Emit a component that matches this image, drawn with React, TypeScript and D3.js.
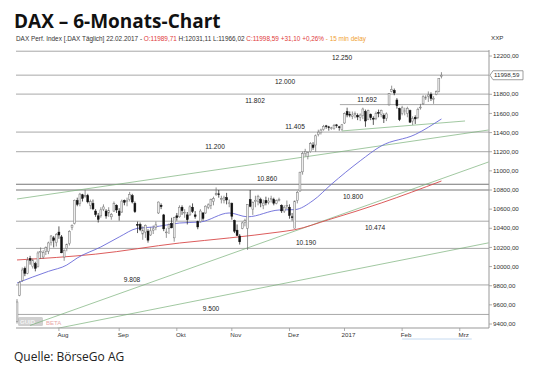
import React from 'react';
import * as d3 from 'd3';

// ---------- DATA ----------
const candleDates = [
  '08.07','11.07','12.07','13.07','14.07','15.07','18.07','19.07','20.07','21.07','22.07','25.07','26.07','27.07','28.07','29.07',
  '01.08','02.08','03.08','04.08','05.08','08.08','09.08','10.08','11.08','12.08','15.08','16.08','17.08','18.08','19.08','22.08','23.08','24.08','25.08','26.08','29.08','30.08','31.08',
  '01.09','02.09','05.09','06.09','07.09','08.09','09.09','12.09','13.09','14.09','15.09','16.09','19.09','20.09','21.09','22.09','23.09','26.09','27.09','28.09','29.09','30.09',
  '03.10','04.10','05.10','06.10','07.10','10.10','11.10','12.10','13.10','14.10','17.10','18.10','19.10','20.10','21.10','24.10','25.10','26.10','27.10','28.10','31.10',
  '01.11','02.11','03.11','04.11','07.11','08.11','09.11','10.11','11.11','14.11','15.11','16.11','17.11','18.11','21.11','22.11','23.11','24.11','25.11','28.11','29.11','30.11',
  '01.12','02.12','05.12','06.12','07.12','08.12','09.12','12.12','13.12','14.12','15.12','16.12','19.12','20.12','21.12','22.12','23.12','27.12','28.12','29.12','30.12',
  '02.01','03.01','04.01','05.01','06.01','09.01','10.01','11.01','12.01','13.01','16.01','17.01','18.01','19.01','20.01','23.01','24.01','25.01','26.01','27.01','30.01','31.01',
  '01.02','02.02','03.02','06.02','07.02','08.02','09.02','10.02','13.02','14.02','15.02','16.02','17.02','20.02','21.02','22.02'
];
const openValues = [
  9427,9700,9857,9980,9930,10085,10000,10030,10000,10150,10100,10160,10160,10250,10300,10250,
  10360,10310,10100,10190,10240,10410,10450,10690,10660,10750,10740,10740,10640,10660,10580,10530,10530,10600,10580,10560,10520,10580,10640,
  10580,10570,10690,10680,10700,10740,10660,10440,10440,10340,10360,10370,10330,10380,10410,10560,10640,10540,10360,10400,10450,10300,
  10530,10520,10620,10560,10540,10540,10620,10540,10470,10470,10560,10560,10620,10640,10680,10750,10760,10700,10690,10720,10660,
  10660,10480,10380,10320,10400,10460,10400,10700,10600,10680,10680,10700,10640,10690,10670,10700,10700,10660,10700,10640,10580,10640,
  10620,10520,10400,10690,10790,10990,11180,11150,11200,11270,11270,11380,11400,11430,11470,11460,11450,11440,11480,11460,11430,
  11500,11620,11590,11570,11590,11580,11560,11580,11620,11540,11590,11550,11550,11610,11590,11580,11550,11690,11830,11840,11740,11650,
  11600,11620,11600,11630,11520,11560,11560,11660,11700,11760,11780,11800,11750,11800,11830,11989
];
const highValues = [
  9660,9850,9990,10000,10100,10112,10085,10050,10160,10200,10170,10210,10260,10330,10320,10350,
  10420,10330,10180,10240,10380,10440,10700,10720,10770,10760,10802,10760,10700,10700,10600,10560,10620,10650,10600,10620,10560,10680,10650,
  10610,10700,10700,10720,10780,10760,10680,10470,10460,10420,10440,10390,10410,10430,10470,10680,10660,10550,10400,10450,10510,10520,
  10560,10640,10640,10600,10570,10640,10660,10580,10480,10600,10570,10640,10660,10710,10730,10827,10800,10740,10740,10770,10700,
  10670,10490,10440,10340,10470,10500,10650,10800,10680,10740,10750,10720,10700,10730,10720,10740,10720,10700,10720,10650,10640,10690,
  10650,10560,10690,10790,10990,11200,11230,11200,11300,11300,11380,11430,11440,11480,11480,11470,11460,11490,11490,11470,11490,
  11610,11660,11620,11620,11620,11600,11600,11660,11640,11640,11600,11570,11620,11640,11640,11600,11610,11810,11890,11860,11760,11660,
  11680,11660,11670,11640,11570,11580,11660,11700,11790,11790,11830,11820,11780,11840,11970,12031
];
const lowValues = [
  9405,9690,9840,9900,9920,10020,9980,9950,9990,10080,10080,10120,10130,10220,10200,10210,
  10290,10140,10060,10160,10220,10380,10440,10630,10630,10680,10720,10660,10600,10590,10520,10460,10510,10580,10500,10520,10490,10570,10560,
  10480,10560,10640,10630,10680,10660,10560,10350,10370,10280,10300,10250,10320,10340,10380,10550,10600,10370,10300,10340,10400,10260,
  10480,10510,10540,10510,10440,10530,10560,10500,10390,10460,10480,10550,10600,10600,10640,10740,10720,10660,10660,10650,10620,
  10490,10350,10320,10230,10390,10420,10174,10620,10540,10620,10640,10620,10600,10640,10650,10670,10640,10650,10680,10560,10560,10600,
  10500,10480,10400,10660,10780,10960,11150,11120,11190,11220,11200,11360,11380,11420,11440,11420,11430,11430,11450,11420,11420,
  11490,11560,11560,11540,11550,11530,11520,11540,11460,11530,11530,11480,11530,11560,11560,11500,11520,11680,11820,11790,11650,11520,
  11580,11580,11560,11500,11480,11490,11540,11640,11690,11740,11720,11730,11700,11790,11820,11966
];
const closeValues = [
  9630,9833,9964,9930,10068,10066,10063,9982,10142,10156,10147,10198,10247,10319,10275,10337,
  10330,10144,10170,10228,10367,10432,10693,10650,10757,10713,10740,10676,10679,10603,10544,10494,10593,10623,10529,10588,10544,10657,10592,
  10534,10684,10672,10687,10752,10675,10573,10432,10386,10379,10431,10276,10373,10394,10436,10674,10626,10394,10361,10438,10405,10511,
  10512,10619,10585,10568,10490,10624,10577,10523,10414,10580,10503,10631,10645,10701,10710,10761,10757,10709,10717,10696,10665,
  10526,10370,10325,10259,10456,10482,10646,10630,10668,10693,10735,10664,10663,10665,10685,10713,10662,10689,10700,10582,10620,10640,
  10534,10513,10684,10775,10986,11180,11203,11190,11284,11244,11366,11404,11427,11464,11468,11456,11450,11474,11475,11451,11481,
  11599,11584,11585,11584,11599,11563,11583,11646,11521,11629,11555,11540,11599,11604,11630,11546,11595,11806,11848,11814,11681,11535,
  11659,11627,11651,11509,11549,11543,11643,11666,11774,11771,11794,11757,11757,11827,11967,11999
];

// moving averages: [day index, value]
const blueAverage: [number, number][] = [
  [0, 9828], [6, 9891], [12, 9950], [19, 10016], [23, 10090], [32, 10205], [39, 10309], [46, 10400],
  [52, 10413], [57, 10434], [62, 10455], [70, 10466], [81, 10560], [88, 10520], [100, 10591], [106, 10595],
  [113, 10690], [120, 10860], [131, 11105], [139, 11260], [152, 11380], [162, 11542]
];
const redAverage: [number, number][] = [
  [0, 10069], [30, 10130], [62, 10246], [81, 10299], [100, 10361], [106, 10385], [119, 10490], [139, 10664], [162, 10894]
];

// trend lines: two anchor points each [day index, value]
const trendLines: [number, number][][] = [
  [[0, 10706], [180, 11427]],
  [[124, 11417], [171, 11521]],
  [[5, 9385], [180, 11093]],
  [[0, 9271], [180, 10248]]
];

// horizontal levels
const levelValues = [12250, 12000, 11802, 11692, 11405, 11200, 10860, 10800, 10474, 10190, 9808, 9500];
const levelLabels = ['12.250', '12.000', '11.802', '11.692', '11.405', '11.200', '10.860', '10.800', '10.474', '10.190', '9.808', '9.500'];
const levelStartIdx = [0, 0, 0, 124, 0, 0, 0, 0, 0, 0, 0, 0];

// axes
const yTickValues = [12200, 11800, 11600, 11400, 11200, 11000, 10800, 10600, 10400, 10200, 10000, 9800, 9600, 9400];
const monthLabels = ['Aug', 'Sep', 'Okt', 'Nov', 'Dez', '2017', 'Feb', 'Mrz'];
const monthStartIdx = [16, 39, 61, 82, 104, 125, 147, 169];

const lastPriceLabel = '11998,59';

// ---------- LAYOUT (positions/styles) ----------
const levelLabelX = [342, 285, 255, 367, 295, 215, 267, 353, 375, 306, 132, 211];
const levelLabelBelow = [true, true, true, false, false, false, false, true, true, false, false, false];
const levelDark = [false, false, false, false, false, false, true, true, false, false, false, false];

const PL = 16, PR = 489, PT = 46, PB = 328;

export default function App() {
  const x = d3.scaleLinear().domain([0, 170]).range([17, 17 + 170 * 2.62]);
  const y = d3.scaleLinear().domain([9400, 12200]).range([324, 56]);

  const maLine = d3.line<[number, number]>()
    .x(d => x(d[0]))
    .y(d => y(d[1]))
    .curve(d3.curveMonotoneX);

  const fmtY = (v: number) => d3.format('.2f')(v).replace('.', ',');
  const lastY = y(closeValues[closeValues.length - 1]);
  const bodyW = 1.9;

  return (
    <div style={{ position: 'absolute', left: 0, top: 0 }}>
      <svg width={540} height={379} style={{ display: 'block', background: '#fff' }}>
        <defs>
          <clipPath id="plot">
            <rect x={PL} y={PT} width={PR - PL} height={PB - PT} />
          </clipPath>
        </defs>

        {/* title */}
        <text x={14} y={28} fontFamily="'Open Sans', sans-serif" fontWeight={700} fontSize={19} fill="#111">
          DAX – 6-Monats-Chart
        </text>
        <text x={16} y={41} fontFamily="'Liberation Sans', Arial, sans-serif" fontSize={6.4} fill="#333"
          textLength={350} lengthAdjust="spacingAndGlyphs">
          <tspan>DAX Perf. Index [.DAX Täglich] 22.02.2017 - </tspan>
          <tspan fill="#e03a3a">O:11989,71</tspan>
          <tspan> H:12031,11 L:11966,02 </tspan>
          <tspan fill="#e03a3a">C:11998,59 +31,10 +0,26%</tspan>
          <tspan fill="#f0a030"> - 15 min delay</tspan>
        </text>
        <text x={491} y={40} fontFamily="'Liberation Sans', Arial, sans-serif" fontSize={6.2} fill="#333">XXP</text>

        {/* watermark */}
        <g>
          <rect x={18} y={317} width={25} height={9} rx={1.5} fill="#d0d0d0" />
          <text x={20} y={324} fontFamily="'Liberation Sans', Arial, sans-serif" fontSize={6} fontWeight={700} fill="#f4f4f4">GUID</text>
          <text x={46} y={325} fontFamily="'Liberation Sans', Arial, sans-serif" fontSize={6} fill="#e8a8a8">BETA</text>
        </g>

        {/* levels */}
        {levelValues.map((v, i) => (
          <g key={'lv' + i}>
            <line x1={Math.max(PL, x(levelStartIdx[i]) - 2)} x2={PR} y1={y(v)} y2={y(v)}
              stroke={levelDark[i] ? '#777' : '#a8a8a8'} strokeWidth={1} />
            <text x={levelLabelX[i]} y={y(v) + (levelLabelBelow[i] ? 8.5 : -3)} textAnchor="middle"
              fontFamily="'Liberation Sans', Arial, sans-serif" fontSize={6.6} fill="#222">{levelLabels[i]}</text>
          </g>
        ))}

        <g clipPath="url(#plot)">
          {/* trend lines */}
          {trendLines.map((t, i) => (
            <line key={'tl' + i} x1={x(t[0][0])} y1={y(t[0][1])} x2={x(t[1][0])} y2={y(t[1][1])}
              stroke="#78b078" strokeWidth={0.7} />
          ))}
          {/* moving averages */}
          <path d={maLine(redAverage) || ''} fill="none" stroke="#d84a4a" strokeWidth={0.9} />
          <path d={maLine(blueAverage) || ''} fill="none" stroke="#6a6ad8" strokeWidth={0.9} />

          {/* candles */}
          {closeValues.map((c, i) => {
            const o = openValues[i];
            const up = c >= o;
            const cx = x(i);
            const top = y(Math.max(o, c));
            const bot = y(Math.min(o, c));
            return (
              <g key={'c' + i}>
                <line x1={cx} x2={cx} y1={y(highValues[i])} y2={y(lowValues[i])} stroke={up ? '#666' : '#111'} strokeWidth={0.7} />
                <rect x={cx - bodyW / 2} y={top} width={bodyW} height={Math.max(0.8, bot - top)}
                  fill={up ? '#ededed' : '#111'} stroke={up ? '#777' : '#111'} strokeWidth={0.5} />
              </g>
            );
          })}
        </g>

        {/* y axis */}
        <line x1={PR} x2={PR} y1={50} y2={PB} stroke="#999" strokeWidth={1} />
        {yTickValues.map(v => (
          <g key={'yt' + v}>
            <line x1={PR} x2={PR + 3} y1={y(v)} y2={y(v)} stroke="#999" strokeWidth={0.8} />
            <text x={PR + 4} y={y(v) + 2.2} fontFamily="'Liberation Sans', Arial, sans-serif" fontSize={6.2} fill="#333">{fmtY(v)}</text>
          </g>
        ))}
        {/* last price tag */}
        <path d={`M${PR + 1},${lastY} L${PR + 4},${lastY - 4.5} L${PR + 34},${lastY - 4.5} L${PR + 34},${lastY + 4.5} L${PR + 4},${lastY + 4.5} Z`}
          fill="#fff" stroke="#777" strokeWidth={0.7} />
        <text x={PR + 5} y={lastY + 2.2} fontFamily="'Liberation Sans', Arial, sans-serif" fontSize={6.2} fill="#333">{lastPriceLabel}</text>

        {/* x axis */}
        <line x1={PL} x2={PR} y1={PB} y2={PB} stroke="#999" strokeWidth={1} />
        {monthStartIdx.map((m, i) => (
          <g key={'xt' + i}>
            <line x1={x(m)} x2={x(m)} y1={PB} y2={PB + 3} stroke="#999" strokeWidth={0.8} />
            <text x={x(m) + 4} y={PB + 9} textAnchor="middle" fontFamily="'Liberation Sans', Arial, sans-serif" fontSize={6.2} fill="#333">{monthLabels[i]}</text>
          </g>
        ))}
        <line x1={x(147)} x2={x(169) + 12} y1={PB + 11} y2={PB + 11} stroke="#b8d0ec" strokeWidth={0.8} />

        {/* source */}
        <text x={14} y={361} fontFamily="'Open Sans', sans-serif" fontSize={12} fill="#222">Quelle: BörseGo AG</text>
      </svg>
    </div>
  );
}
